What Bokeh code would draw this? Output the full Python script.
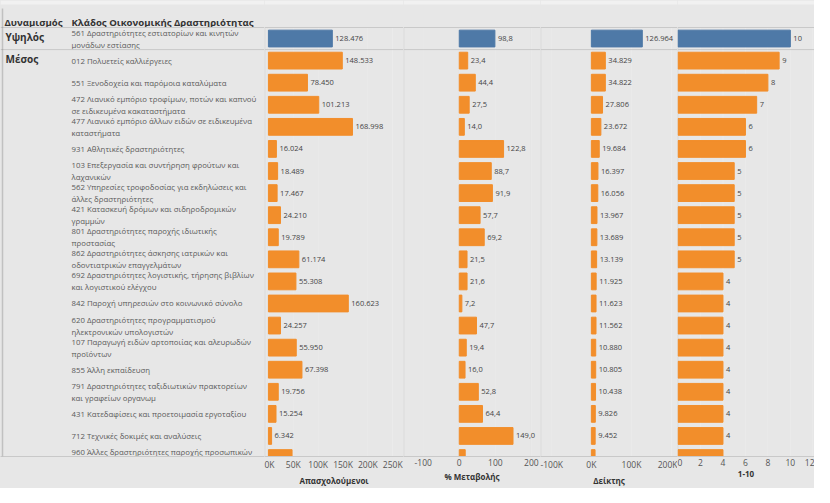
from bokeh.plotting import figure
from bokeh.models import Range1d, ColumnDataSource, Span, FixedTicker, LinearAxis, BoxAnnotation
from bokeh.layouts import row
from bokeh.embed import file_html
from bokeh.resources import INLINE
from bokeh.core.properties import value

# ---------------- data ----------------
codes = ["561", "012", "551", "472", "477", "931", "103", "562", "421", "801",
         "862", "692", "842", "620", "107", "855", "791", "431", "712", "960"]
names = [
    "Δραστηριότητες εστιατορίων και κινητών\nμονάδων εστίασης",
    "Πολυετείς καλλιέργειες",
    "Ξενοδοχεία και παρόμοια καταλύματα",
    "Λιανικό εμπόριο τροφίμων, ποτών και καπνού\nσε ειδικευμένα κακαταστήματα",
    "Λιανικό εμπόριο άλλων ειδών σε ειδικευμένα\nκαταστήματα",
    "Αθλητικές δραστηριότητες",
    "Επεξεργασία και συντήρηση φρούτων και\nλαχανικών",
    "Υπηρεσίες τροφοδοσίας για εκδηλώσεις και\nάλλες δραστηριότητες",
    "Κατασκευή δρόμων και σιδηροδρομικών\nγραμμών",
    "Δραστηριότητες παροχής ιδιωτικής\nπροστασίας",
    "Δραστηριότητες άσκησης ιατρικών και\nοδοντιατρικών επαγγελμάτων",
    "Δραστηριότητες λογιστικής, τήρησης βιβλίων\nκαι λογιστικού ελέγχου",
    "Παροχή υπηρεσιών στο κοινωνικό σύνολο",
    "Δραστηριότητες προγραμματισμού\nηλεκτρονικών υπολογιστών",
    "Παραγωγή ειδών αρτοποιίας και αλευρωδών\nπροϊόντων",
    "Άλλη εκπαίδευση",
    "Δραστηριότητες ταξιδιωτικών πρακτορείων\nκαι γραφείων οργανωμ",
    "Κατεδαφίσεις και προετοιμασία εργοταξίου",
    "Τεχνικές δοκιμές και αναλύσεις",
    "Άλλες δραστηριότητες παροχής προσωπικών\nυπηρεσιών",
]
groups = ["Υψηλός"] + ["Μέσος"] * 19
employed = [128476, 148533, 78450, 101213, 168998, 16024, 18489, 17467, 24210, 19789,
            61174, 55308, 160623, 24257, 55950, 67398, 19756, 15254, 6342, 47500]
pct_change = [98.8, 23.4, 44.4, 27.5, 14.0, 122.8, 88.7, 91.9, 57.7, 69.2,
              21.5, 21.6, 7.2, 47.7, 19.4, 16.0, 52.8, 64.4, 149.0, 16.5]
index_vals = [126964, 34829, 34822, 27806, 23672, 19684, 16397, 16056, 13967, 13689,
              13139, 11925, 11623, 11562, 10880, 10805, 10438, 9826, 9452, 9200]
score = [10, 9, 8, 7, 6, 6, 5, 5, 5, 5, 5, 4, 4, 4, 4, 4, 4, 4, 4, 4]

emp_ticks = [0, 50000, 100000, 150000, 200000, 250000]
pct_ticks = [-100, 0, 100, 200]
idx_ticks = [-100000, 0, 100000, 200000]
score_ticks = [0, 2, 4, 6, 8, 10, 12]

header_left = "Δυναμισμός"
header_right = "Κλάδος Οικονομικής Δραστηριότητας"
axis_titles = ["Απασχολούμενοι", "% Μεταβολής", "Δείκτης", "1-10"]

group_colors = {"Υψηλός": "#4e79a7", "Μέσος": "#f28e2b"}

# ---------------- styling / layout ----------------
BG = "#e7e7e7"
TOPSTRIP = "#f1f1f1"
GRID = "#eeeeee"
SEP = "#c9c9c9"
FONT = "Open Sans"
TOP = 27                      # header band height (inside the frame)
BOT = 31                      # axis band height
FH = 429                      # rows band height
Y0, Y1 = -0.5, 18.93          # rows band in row units
PPR = FH / (Y1 - Y0)          # pixels per row
YT = Y0 - TOP / PPR           # top of header band in row units
LABEL_W = 264


def thousands(v):
    return f"{v:,}".replace(",", ".")


def decimal1(v):
    return f"{v:.1f}".replace(".", ",")


def ktick(t):
    return f"{int(t / 1000)}K"


n = len(codes)
ys = list(range(n))
src = ColumnDataSource(dict(
    y=ys,
    label=[f"{c} {nm}" for c, nm in zip(codes, names)],
    color=[group_colors[g] for g in groups],
    emp=employed, pct=pct_change, idx=index_vals, score=score,
    emp_t=[thousands(v) for v in employed],
    pct_t=[decimal1(v) for v in pct_change],
    idx_t=[thousands(v) for v in index_vals],
    score_t=[str(v) for v in score],
))

group_starts = []
for i, g in enumerate(groups):
    if i == 0 or groups[i - 1] != g:
        group_starts.append((i, g))


def vline(x, color, width=1):
    # vertical line limited to the rows band
    return BoxAnnotation(left=x, right=x, top=Y0, bottom=Y1, fill_alpha=0,
                         line_color=color, line_width=width, level="underlay")


def base_fig(fw, xr):
    p = figure(frame_width=fw, frame_height=FH + TOP, x_range=Range1d(*xr),
               y_range=Range1d(Y1, YT), toolbar_location=None, output_backend="svg",
               min_border_left=0, min_border_right=0, min_border_top=0,
               min_border_bottom=BOT, background_fill_color=BG, border_fill_color=BG,
               outline_line_color=None, y_axis_type=None, x_axis_type=None)
    p.grid.visible = False
    p.add_layout(BoxAnnotation(top=YT, bottom=YT + 4 / PPR, fill_color=TOPSTRIP,
                               fill_alpha=1, line_color=None, level="underlay"))
    p.add_layout(Span(location=Y0, dimension="width", line_color=SEP, line_width=1))
    for i, g in group_starts[1:]:
        p.add_layout(Span(location=i - 0.5, dimension="width", line_color=SEP, line_width=1))
    return p


# ---------------- label column ----------------
pl = base_fig(LABEL_W, (0, LABEL_W))
ax = LinearAxis(ticker=FixedTicker(ticks=[]), axis_line_color=SEP, major_tick_out=0,
                minor_tick_out=0, major_label_text_font_size="0px")
pl.add_layout(ax, "below")
pl.text(x=71, y="y", text="label", source=src, text_font=value(FONT),
        text_font_size="7.8px", text_color="#5a5a5a", text_baseline="middle",
        text_align="left", text_line_height=1.2)
for i, g in group_starts:
    pl.text(x=[5], y=[i - 0.5 + 0.12], text=[g], text_font=value(FONT),
            text_font_size="10px", text_font_style="bold", text_color="#333333",
            text_baseline="top", text_align="left")
hy = Y0 - 5.5 / PPR
pl.text(x=[4, 71], y=[hy, hy], text=[header_left, header_right], text_font=value(FONT),
        text_font_size="9.6px", text_font_style="bold", text_color="#333333",
        text_baseline="middle", text_align="left")
pl.add_layout(BoxAnnotation(left=2, right=2, top=YT + 8 / PPR, bottom=Y1, fill_alpha=0,
                            line_color="#6b6b6b", line_width=1.5))


# ---------------- value panels ----------------
def panel(fw, xr, ticks, tick_labels, field, tfield, title):
    p = base_fig(fw, xr)
    axis = LinearAxis(ticker=FixedTicker(ticks=ticks), axis_label=title,
                      major_label_overrides={t: lab for t, lab in zip(ticks, tick_labels)})
    axis.axis_line_color = SEP
    axis.major_tick_line_color = None
    axis.minor_tick_line_color = None
    axis.major_tick_out = 0
    axis.minor_tick_out = 0
    axis.major_label_text_font = FONT
    axis.major_label_text_font_size = "8.5px"
    axis.major_label_text_color = "#555555"
    axis.major_label_standoff = 2
    axis.axis_label_text_font = FONT
    axis.axis_label_text_font_size = "8px"
    axis.axis_label_text_font_style = "bold"
    axis.axis_label_text_color = "#333333"
    axis.axis_label_standoff = 2
    p.add_layout(axis, "below")
    for t in ticks:
        p.add_layout(vline(t, GRID))
    p.add_layout(vline(xr[0] + (xr[1] - xr[0]) * 0.003, SEP))
    p.hbar(y="y", left=0, right=field, height=0.76, color="color", source=src)
    p.text(x=field, y="y", text=tfield, source=src, x_offset=3, text_font=value(FONT),
           text_font_size="7.5px", text_color="#444444", text_baseline="middle",
           text_align="left")
    return p


p1 = panel(139, (-7900, 271600), emp_ticks, [ktick(t) for t in emp_ticks], "emp", "emp_t", axis_titles[0])
p2 = panel(137, (-154.6, 225.2), pct_ticks, [str(t) for t in pct_ticks], "pct", "pct_t", axis_titles[1])
p3 = panel(137, (-126800, 214700), idx_ticks, [ktick(t) for t in idx_ticks], "idx", "idx_t", axis_titles[2])
p4 = panel(137, (-0.05, 12.15), score_ticks, [str(t) for t in score_ticks], "score", "score_t", axis_titles[3])

layout = row(pl, p1, p2, p3, p4, spacing=0, styles={"background-color": BG})
open("out.html", "w").write(file_html(layout, INLINE))
